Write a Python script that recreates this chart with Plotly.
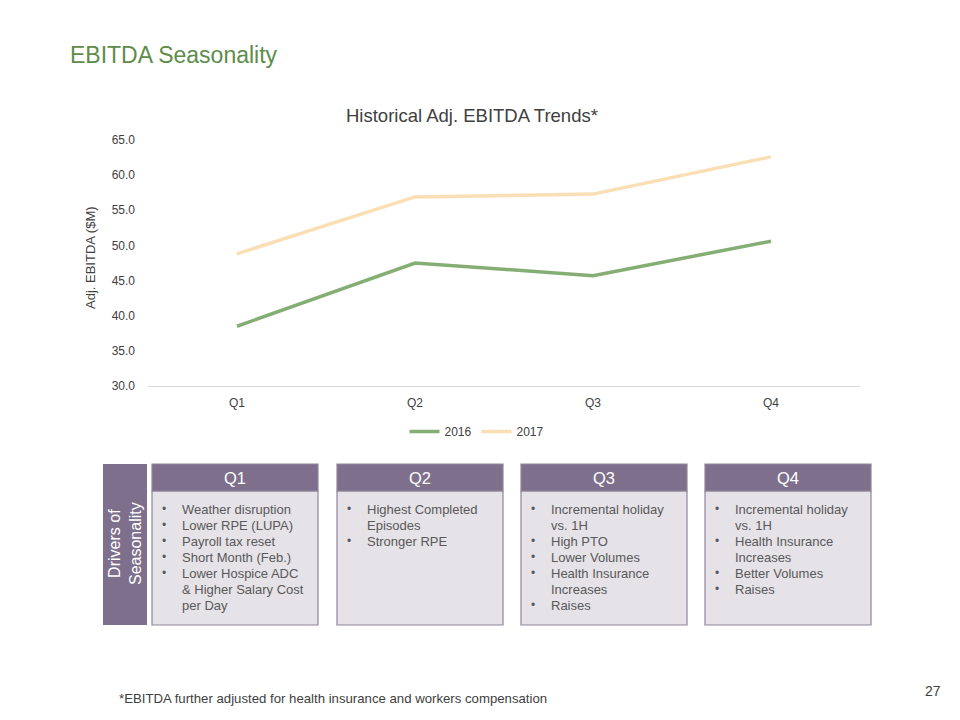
import plotly.graph_objects as go

# ---------------- data ----------------
quarters = ["Q1", "Q2", "Q3", "Q4"]
ebitda_2016 = [38.5, 47.5, 45.7, 50.6]
ebitda_2017 = [48.8, 56.9, 57.3, 62.6]
y_ticks = [30, 35, 40, 45, 50, 55, 60, 65]

page_title = "EBITDA Seasonality"
chart_title = "Historical Adj. EBITDA Trends*"
y_title = "Adj. EBITDA ($M)"
side_label = "Drivers of<br>Seasonality"
footnote = "*EBITDA further adjusted for health insurance and workers compensation"
page_no = "27"

# each driver: list of bullet items, each item a list of wrapped lines
drivers_q1 = [["Weather disruption"], ["Lower RPE (LUPA)"], ["Payroll tax reset"],
              ["Short Month (Feb.)"], ["Lower Hospice ADC", "& Higher Salary Cost", "per Day"]]
drivers_q2 = [["Highest Completed", "Episodes"], ["Stronger RPE"]]
drivers_q3 = [["Incremental holiday", "vs. 1H"], ["High PTO"], ["Lower Volumes"],
              ["Health Insurance", "Increases"], ["Raises"]]
drivers_q4 = [["Incremental holiday", "vs. 1H"], ["Health Insurance", "Increases"],
              ["Better Volumes"], ["Raises"]]
drivers = [drivers_q1, drivers_q2, drivers_q3, drivers_q4]

# ---------------- style ----------------
W, H = 960, 720
PL, PR, PT, PB = 148, 860, 140, 386   # plot area in pixels
GREEN = "#85ae74"
CREAM = "#f9dfb3"
PURPLE = "#7e6f8c"
BODY = "#e5e2e8"
BORDER = "#8f8699"
FONT = "Liberation Sans, Arial, sans-serif"


def px(x):
    return (x - PL) / (PR - PL)


def py(y):
    return (PB - y) / (PB - PT)


fig = go.Figure()
fig.add_trace(go.Scatter(x=quarters, y=ebitda_2016, mode="lines", name="2016",
                         line=dict(color=GREEN, width=3.5)))
fig.add_trace(go.Scatter(x=quarters, y=ebitda_2017, mode="lines", name="2017",
                         line=dict(color=CREAM, width=3.5)))

shapes = []
ann = []

# page title
ann.append(dict(x=px(68), y=py(55), text=page_title, showarrow=False, xanchor="left",
                yanchor="middle", font=dict(size=23, color="#5e8c4a", family=FONT)))
# chart title
ann.append(dict(x=px(472), y=py(116), text=chart_title, showarrow=False, xanchor="center",
                yanchor="middle", font=dict(size=18.5, color="#404040", family=FONT)))
# y title
ann.append(dict(x=px(90), y=py(258), text=y_title, showarrow=False, textangle=-90,
                xanchor="center", yanchor="middle", font=dict(size=13, color="#404040", family=FONT)))

# side box
shapes.append(dict(type="rect", xref="paper", yref="paper", x0=px(103), x1=px(147),
                   y0=py(464), y1=py(625), fillcolor=PURPLE, line=dict(width=0), layer="above"))
ann.append(dict(x=px(125), y=py(544), text=side_label, showarrow=False, textangle=-90,
                xanchor="center", yanchor="middle",
                font=dict(size=16, color="white", family=FONT)))

box_lefts = [152, 337, 521, 705]
box_w = 166
for q, left, items in zip(quarters, box_lefts, drivers):
    shapes.append(dict(type="rect", xref="paper", yref="paper", x0=px(left), x1=px(left + box_w),
                       y0=py(491), y1=py(625), fillcolor=BODY,
                       line=dict(width=1.2, color=BORDER), layer="above"))
    shapes.append(dict(type="rect", xref="paper", yref="paper", x0=px(left), x1=px(left + box_w),
                       y0=py(464), y1=py(491), fillcolor=PURPLE,
                       line=dict(width=1.2, color=BORDER), layer="above"))
    ann.append(dict(x=px(left + box_w / 2), y=py(477.5), text=q, showarrow=False,
                    xanchor="center", yanchor="middle",
                    font=dict(size=16.5, color="white", family=FONT)))
    yline = 509
    for item in items:
        ann.append(dict(x=px(left + 12), y=py(yline), text="•", showarrow=False,
                        xanchor="center", yanchor="middle",
                        font=dict(size=12, color="#595959", family=FONT)))
        for line in item:
            ann.append(dict(x=px(left + 28), y=py(yline), text=line, showarrow=False,
                            xanchor="left", yanchor="middle",
                            font=dict(size=13, color="#595959", family=FONT)))
            yline += 16

# footnote and page number
ann.append(dict(x=px(117), y=py(698), text=footnote, showarrow=False, xanchor="left",
                yanchor="middle", font=dict(size=13.2, color="#404040", family=FONT)))
ann.append(dict(x=px(943), y=py(691), text=page_no, showarrow=False, xanchor="right",
                yanchor="middle", font=dict(size=14, color="#404040", family=FONT)))

for a in ann:
    a.setdefault("xref", "paper")
    a.setdefault("yref", "paper")

fig.update_layout(
    width=W, height=H,
    margin=dict(l=PL, r=W - PR, t=PT, b=H - PB, pad=0),
    paper_bgcolor="white", plot_bgcolor="white",
    font=dict(family=FONT, color="#595959", size=12),
    showlegend=True,
    legend=dict(orientation="h", x=px(477), xanchor="center", y=py(417), yanchor="top",
                font=dict(size=12, color="#404040", family=FONT), itemwidth=30,
                bgcolor="rgba(0,0,0,0)"),
    xaxis=dict(showgrid=False, showline=True, linecolor="#d9d9d9", linewidth=1,
               ticks="", tickfont=dict(size=12, color="#404040"), range=[-0.5, 3.5],
               zeroline=False, ticklabelstandoff=6),
    yaxis=dict(range=[30, 65], tickvals=y_ticks, tickformat=".1f", showgrid=False,
               zeroline=False, showline=False, ticks="",
               tickfont=dict(size=12, color="#404040"), ticklabelstandoff=12),
    shapes=shapes, annotations=ann,
)

fig.write_html("out.html")
